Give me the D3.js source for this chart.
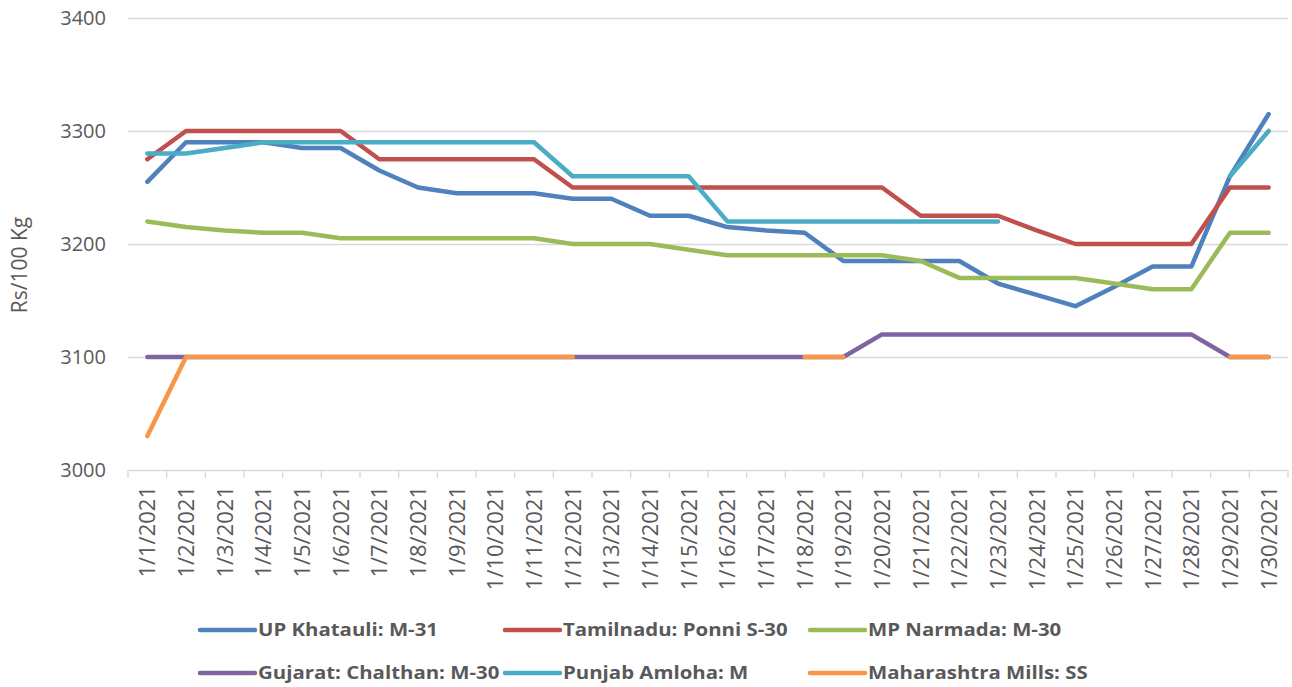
<!DOCTYPE html>
<html>
<head>
<meta charset="utf-8">
<script src="https://cdn.jsdelivr.net/npm/d3@7.9.0/dist/d3.min.js"></script>
<style>
  body { margin: 0; background: #fff; }
  svg { display: block; font-family: "Open Sans", sans-serif; }
</style>
</head>
<body>
<div id="chart"></div>
<script>
const dates = d3.range(1, 31).map(d => `1/${d}/2021`)

const upKhatauli = [3255, 3290, 3290, 3290, 3285, 3285, 3265, 3250, 3245, 3245,
  3245, 3240, 3240, 3225, 3225, 3215, 3212, 3210, 3185, 3185,
  3185, 3185, 3165, 3155, 3145, 3162, 3180, 3180, 3260, 3315]
const tamilnadu = [3275, 3300, 3300, 3300, 3300, 3300, 3275, 3275, 3275, 3275,
  3275, 3250, 3250, 3250, 3250, 3250, 3250, 3250, 3250, 3250,
  3225, 3225, 3225, 3212, 3200, 3200, 3200, 3200, 3250, 3250]
const mpNarmada = [3220, 3215, 3212, 3210, 3210, 3205, 3205, 3205, 3205, 3205,
  3205, 3200, 3200, 3200, 3195, 3190, 3190, 3190, 3190, 3190,
  3185, 3170, 3170, 3170, 3170, 3165, 3160, 3160, 3210, 3210]
const gujarat = [3100, 3100, 3100, 3100, 3100, 3100, 3100, 3100, 3100, 3100,
  3100, 3100, 3100, 3100, 3100, 3100, 3100, 3100, 3100, 3120,
  3120, 3120, 3120, 3120, 3120, 3120, 3120, 3120, 3100, 3100]
const punjab = [3280, 3280, 3285, 3290, 3290, 3290, 3290, 3290, 3290, 3290,
  3290, 3260, 3260, 3260, 3260, 3220, 3220, 3220, 3220, 3220,
  3220, 3220, 3220, null, null, null, null, null, 3260, 3300]
const maharashtra = [3030, 3100, 3100, 3100, 3100, 3100, 3100, 3100, 3100, 3100,
  3100, 3100, null, null, null, null, null, 3100, 3100, null,
  null, null, null, null, null, null, null, null, 3100, 3100]

const yTicks = [3000, 3100, 3200, 3300, 3400]

const series = [
  {name: "UP Khatauli: M-31", values: upKhatauli, color: "#4f81bd"},
  {name: "Tamilnadu: Ponni S-30", values: tamilnadu, color: "#c0504d"},
  {name: "MP Narmada: M-30", values: mpNarmada, color: "#9bbb59"},
  {name: "Gujarat: Chalthan: M-30", values: gujarat, color: "#8064a2"},
  {name: "Punjab Amloha: M", values: punjab, color: "#4bacc6"},
  {name: "Maharashtra Mills: SS", values: maharashtra, color: "#f79646"},
]

const width = 1292, height = 687
const marginLeft = 128, marginRight = 4, marginTop = 18, plotBottom = 470

const x = d3.scaleBand(dates, [marginLeft, width - marginRight])
const y = d3.scaleLinear([3000, 3400], [plotBottom, marginTop])

const svg = d3.select("#chart").append("svg")
    .attr("width", width)
    .attr("height", height)
    .attr("viewBox", [0, 0, width, height])

// grid lines
svg.append("g")
  .selectAll("line")
  .data(yTicks)
  .join("line")
    .attr("x1", marginLeft)
    .attr("x2", width - marginRight)
    .attr("y1", d => y(d) + 0.5)
    .attr("y2", d => y(d) + 0.5)
    .attr("stroke", "#d9d9d9")
    .attr("stroke-width", 1.3)

// y axis labels
svg.append("g")
    .attr("transform", `translate(${marginLeft},0)`)
    .call(d3.axisLeft(y).tickValues(yTicks).tickSize(0).tickPadding(22).tickFormat(d3.format("d")))
    .call(g => g.select(".domain").remove())
    .call(g => g.selectAll("text")
        .attr("fill", "#595959")
        .attr("font-size", 20)
        .attr("font-family", "Open Sans"))

// x axis with boundary ticks
const xg = svg.append("g")
    .attr("transform", `translate(0,${plotBottom})`)
xg.selectAll("line.tick")
  .data(d3.range(dates.length + 1))
  .join("line")
    .attr("class", "tick")
    .attr("x1", i => marginLeft + i * x.step())
    .attr("x2", i => marginLeft + i * x.step())
    .attr("y1", 0)
    .attr("y2", 8)
    .attr("stroke", "#d9d9d9")
    .attr("stroke-width", 1.3)
xg.selectAll("text")
  .data(dates)
  .join("text")
    .attr("transform", d => `translate(${x(d) + x.bandwidth() / 2},16) rotate(-90)`)
    .attr("text-anchor", "end")
    .attr("dy", "0.36em")
    .attr("fill", "#595959")
    .attr("font-size", 22)
    .text(d => d)

// y title
svg.append("text")
    .attr("transform", `translate(20,265) rotate(-90)`)
    .attr("text-anchor", "middle")
    .attr("dy", "0.35em")
    .attr("fill", "#595959")
    .attr("font-size", 21)
    .text("Rs/100 Kg")

// lines
const line = d3.line()
    .defined(d => d != null)
    .x((d, i) => x(dates[i]) + x.bandwidth() / 2)
    .y(d => y(d))

svg.append("g")
  .selectAll("path")
  .data(series)
  .join("path")
    .attr("fill", "none")
    .attr("stroke", d => d.color)
    .attr("stroke-width", 4.5)
    .attr("stroke-linecap", "round")
    .attr("stroke-linejoin", "round")
    .attr("d", d => line(d.values))

// legend
const legendPos = [[200, 630], [505, 630], [810, 630], [200, 673], [505, 673], [810, 673]]
const lg = svg.append("g")
  .selectAll("g")
  .data(series)
  .join("g")
    .attr("transform", (d, i) => `translate(${legendPos[i][0]},${legendPos[i][1]})`)
lg.append("line")
    .attr("x1", 0).attr("x2", 55)
    .attr("stroke", d => d.color)
    .attr("stroke-width", 4.5)
    .attr("stroke-linecap", "round")
lg.append("text")
    .attr("transform", "translate(58,0) scale(1.2,1)")
    .attr("dy", "0.35em")
    .attr("fill", "#595959")
    .attr("font-size", 17)
    .attr("font-weight", "bold")
    .text(d => d.name)
</script>
</body>
</html>
